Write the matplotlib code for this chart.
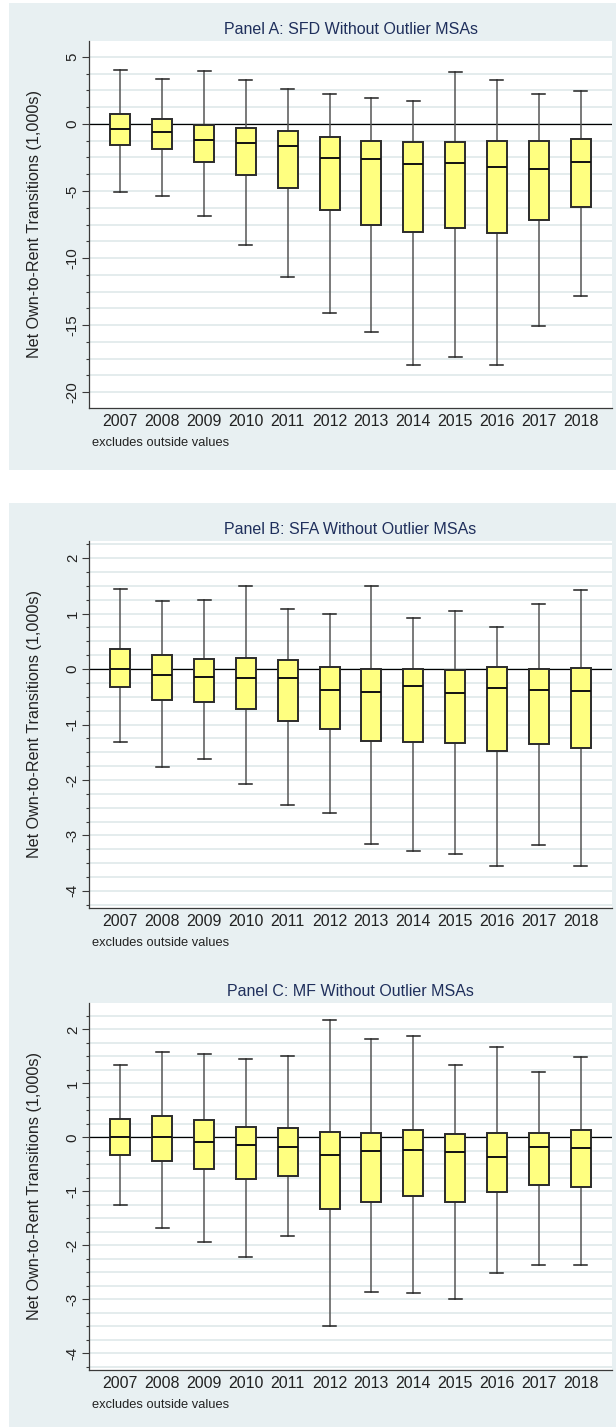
import matplotlib
matplotlib.use('Agg')
import matplotlib.pyplot as plt
from matplotlib.patches import Rectangle
from matplotlib.ticker import MultipleLocator

plt.rcParams['font.family'] = ['Liberation Sans', 'DejaVu Sans']

# ─────────────────────────────────────────────
# Data (in 1,000s)
# ─────────────────────────────────────────────
years = ['2007', '2008', '2009', '2010', '2011', '2012',
         '2013', '2014', '2015', '2016', '2017', '2018']

# Panel A: SFD
sfd_whishi = [4.00, 3.33, 3.96, 3.28, 2.63, 2.26, 1.92, 1.72, 3.90, 3.31, 2.26, 2.49]
sfd_q3 = [0.72, 0.35, -0.05, -0.30, -0.52, -0.99, -1.24, -1.37, -1.34, -1.29, -1.27, -1.12]
sfd_med = [-0.35, -0.60, -1.22, -1.42, -1.64, -2.51, -2.61, -2.99, -2.91, -3.21, -3.38, -2.84]
sfd_q1 = [-1.57, -1.87, -2.86, -3.80, -4.80, -6.39, -7.56, -8.04, -7.76, -8.11, -7.14, -6.17]
sfd_whislo = [-5.07, -5.37, -6.87, -9.03, -11.39, -14.13, -15.55, -17.99, -17.39, -17.96, -15.10, -12.86]

# Panel B: SFA
sfa_whishi = [1.45, 1.23, 1.25, 1.50, 1.08, 0.99, 1.50, 0.92, 1.05, 0.76, 1.17, 1.42]
sfa_q3 = [0.37, 0.25, 0.19, 0.20, 0.16, 0.04, 0.01, 0.01, -0.02, 0.04, 0.00, 0.02]
sfa_med = [0.00, -0.10, -0.14, -0.17, -0.17, -0.37, -0.41, -0.31, -0.44, -0.35, -0.38, -0.39]
sfa_q1 = [-0.33, -0.55, -0.60, -0.72, -0.93, -1.08, -1.30, -1.31, -1.34, -1.47, -1.35, -1.42]
sfa_whislo = [-1.32, -1.77, -1.62, -2.08, -2.46, -2.59, -3.16, -3.28, -3.33, -3.55, -3.17, -3.56]

# Panel C: MF
mf_whishi = [1.35, 1.59, 1.55, 1.46, 1.51, 2.18, 1.83, 1.88, 1.35, 1.67, 1.21, 1.49]
mf_q3 = [0.34, 0.40, 0.33, 0.20, 0.17, 0.10, 0.09, 0.13, 0.06, 0.09, 0.09, 0.13]
mf_med = [0.00, 0.01, -0.08, -0.15, -0.17, -0.33, -0.26, -0.24, -0.28, -0.37, -0.17, -0.19]
mf_q1 = [-0.33, -0.43, -0.59, -0.78, -0.71, -1.32, -1.19, -1.09, -1.19, -1.02, -0.89, -0.91]
mf_whislo = [-1.26, -1.67, -1.94, -2.21, -1.82, -3.49, -2.87, -2.89, -3.00, -2.52, -2.36, -2.36]

# ─────────────────────────────────────────────
# Layout (pixel geometry of the Stata export)
# ─────────────────────────────────────────────
W, H = 616, 1427
BG = '#E8F0F2'
GRID = '#E2EAEC'
AX_L, AX_R, AX_H = 89, 612, 367

fig = plt.figure(figsize=(W / 100, H / 100), dpi=100)
fig.patch.set_facecolor('white')


def px_rect(x0, y0, x1, y1):
    # pixel box measured from top-left -> figure fraction
    return [x0 / W, 1 - y1 / H, (x1 - x0) / W, (y1 - y0) / H]


for x0, y0, x1, y1 in [(9, 3, 616, 470), (9, 503, 616, 1427)]:
    fig.add_artist(Rectangle((x0 / W, 1 - y1 / H), (x1 - x0) / W, (y1 - y0) / H,
                             transform=fig.transFigure, facecolor=BG,
                             edgecolor='none', zorder=0))


def draw_panel(top, title, whislo, q1, med, q3, whishi, ylim, major, minor):
    ax = fig.add_axes(px_rect(AX_L, top, AX_R, top + AX_H))
    ax.set_facecolor('white')

    positions = list(range(1, len(years) + 1))
    stats = [dict(label=y, whislo=lo, q1=a, med=m, q3=b, whishi=hi, fliers=[])
             for y, lo, a, m, b, hi in zip(years, whislo, q1, med, q3, whishi)]
    ax.bxp(stats, positions=positions, widths=0.48,
           capwidths=0.31, patch_artist=True, showfliers=False,
           boxprops=dict(facecolor='#FFFF80', edgecolor='#2b2b2b', linewidth=1.4, zorder=3),
           medianprops=dict(color='#111111', linewidth=1.4, zorder=4),
           whiskerprops=dict(color='#555555', linewidth=1.1, zorder=2.5),
           capprops=dict(color='#222222', linewidth=1.1, zorder=2.5))

    ax.axhline(0, color='black', linewidth=0.9, zorder=2)

    ax.set_xlim(0.25, len(years) + 0.75)
    ax.set_ylim(*ylim)
    ax.set_xticks(positions, years)
    ax.tick_params(axis='x', length=0, pad=4.6, labelsize=11.5, labelcolor='#222222')
    ax.yaxis.set_major_locator(MultipleLocator(major))
    ax.yaxis.set_minor_locator(MultipleLocator(minor))
    ax.yaxis.grid(True, which='both', color=GRID, linewidth=1.3)
    ax.set_axisbelow(True)

    for s in ('top', 'right'):
        ax.spines[s].set_visible(False)
    for s in ('left', 'bottom'):
        ax.spines[s].set_color('#3a3a3a')
        ax.spines[s].set_linewidth(0.9)

    ax.tick_params(axis='y', which='major', length=5.0, width=0.8, color='#3a3a3a',
                   pad=1.6, labelsize=10.8, labelcolor='#222222')
    ax.tick_params(axis='y', which='minor', length=2.4, width=0.8, color='#3a3a3a')
    ax.set_yticklabels([f'{v:g}' for v in ax.get_yticks()])
    for lab in ax.get_yticklabels():
        lab.set_rotation(90)
        lab.set_va('center')

    # titles and notes
    ax.text(0.5, 1 + 12 / AX_H, title, transform=ax.transAxes, ha='center',
            va='center', fontsize=11.5, color='#1f2f5c')
    ax.text((35 - AX_L) / (AX_R - AX_L), 0.5, 'Net Own-to-Rent Transitions (1,000s)',
            transform=ax.transAxes, rotation=90, ha='center', va='center',
            fontsize=11.6, color='#222222')
    ax.text(3 / (AX_R - AX_L), -35 / AX_H, 'excludes outside values',
            transform=ax.transAxes, ha='left', va='center', fontsize=9.3,
            color='#222222')
    return ax


draw_panel(41, 'Panel A: SFD Without Outlier MSAs',
           sfd_whislo, sfd_q1, sfd_med, sfd_q3, sfd_whishi,
           (-21.19, 6.19), 5, 1.25)
draw_panel(541, 'Panel B: SFA Without Outlier MSAs',
           sfa_whislo, sfa_q1, sfa_med, sfa_q3, sfa_whishi,
           (-4.31, 2.31), 1, 0.25)
draw_panel(1003, 'Panel C: MF Without Outlier MSAs',
           mf_whislo, mf_q1, mf_med, mf_q3, mf_whishi,
           (-4.31, 2.49), 1, 0.25)

fig.savefig('out.png', dpi=100)
